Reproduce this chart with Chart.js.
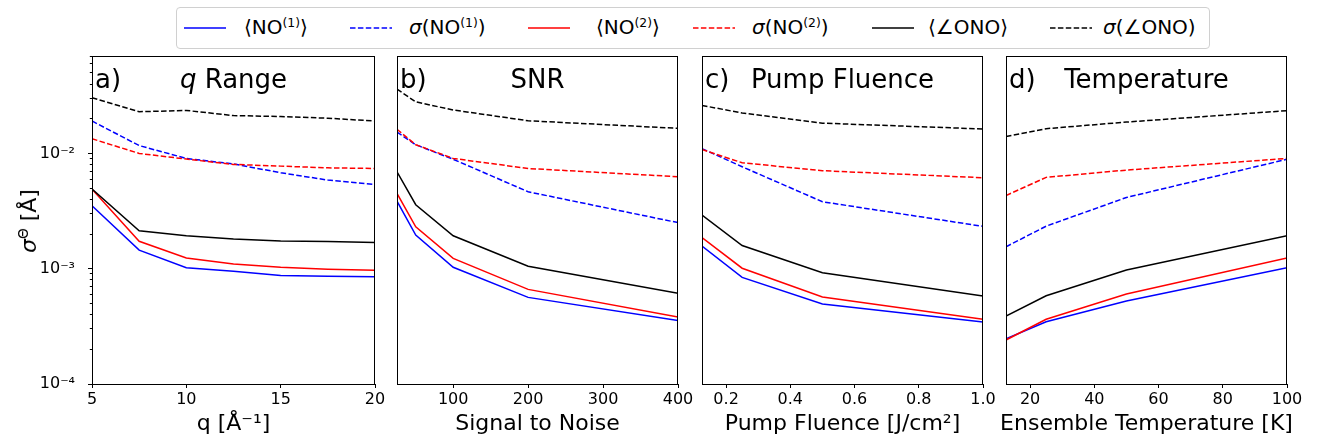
<!DOCTYPE html>
<html>
<head>
<meta charset="utf-8">
<script src="https://cdn.jsdelivr.net/npm/chart.js@4.4.1/dist/chart.umd.min.js"></script>
<style>
  body { margin: 0; background: #fff; }
  #fig { position: relative; width: 1317px; height: 439px; overflow: hidden; font-family: 'DejaVu Sans', sans-serif; color: #000; }
  canvas { position: absolute; top: 0; }
  #legend { position: absolute; left: 176px; top: 7px; width: 1034px; height: 42px; box-sizing: border-box;
            border: 1px solid #d0d0d0; border-radius: 4px; background: #fff; }
  .lg-line { position: absolute; top: 19px; height: 2px; }
  .lg-line svg { display: block; }
  .lg-text { position: absolute; top: 7px; font-size: 20px; line-height: 24px; white-space: nowrap; }
  sup { font-size: 0.62em; vertical-align: 0; position: relative; top: -0.6em; }
  #ylab { position: absolute; left: 30px; top: 221px; font-size: 22px; white-space: nowrap;
          transform: translate(-50%, -50%) rotate(-90deg); line-height: 26px; }
</style>
</head>
<body>
<div id="fig">
  <canvas id="pa" width="395" height="439" style="left:0px"></canvas>
  <canvas id="pb" width="340" height="439" style="left:360px"></canvas>
  <canvas id="pc" width="340" height="439" style="left:665px"></canvas>
  <canvas id="pd" width="347" height="439" style="left:970px"></canvas>
  <div id="legend"></div>
  <div id="ylab"><i>σ</i><sup>Θ</sup> [Å]</div>
</div>
<script>
'use strict';

// a) q range
const qRange = [5, 7.5, 10, 12.5, 15, 17.5, 20];
const qNo1Mean = [0.00352, 0.00145, 0.00102, 0.00095, 0.000875, 0.00086, 0.000853];
const qNo1Std = [0.0191, 0.0117, 0.00905, 0.0081, 0.0068, 0.00587, 0.00538];
const qNo2Mean = [0.0049, 0.00173, 0.00124, 0.0011, 0.00103, 0.00099, 0.00097];
const qNo2Std = [0.0134, 0.0100, 0.00893, 0.00803, 0.00776, 0.0075, 0.0074];
const qOnoMean = [0.00491, 0.00213, 0.00193, 0.00181, 0.00174, 0.00172, 0.00169];
const qOnoStd = [0.0304, 0.0230, 0.0236, 0.0213, 0.0209, 0.0202, 0.0191];

// b) signal to noise
const snr = [25, 50, 100, 200, 400];
const snrNo1Mean = [0.00386, 0.00196, 0.00103, 0.000564, 0.000356];
const snrNo1Std = [0.0153, 0.0119, 0.0089, 0.00465, 0.00251];
const snrNo2Mean = [0.0045, 0.00231, 0.00123, 0.000662, 0.000381];
const snrNo2Std = [0.0162, 0.0119, 0.00905, 0.0074, 0.00628];
const snrOnoMean = [0.00693, 0.00359, 0.00193, 0.00105, 0.000611];
const snrOnoStd = [0.0361, 0.0280, 0.0238, 0.0192, 0.0165];

// c) pump fluence
const fluence = [0.125, 0.25, 0.5, 1.0];
const flNo1Mean = [0.00157, 0.000841, 0.000494, 0.000345];
const flNo1Std = [0.0110, 0.00766, 0.00381, 0.00233];
const flNo2Mean = [0.00186, 0.00101, 0.000568, 0.000364];
const flNo2Std = [0.0108, 0.0083, 0.00708, 0.00615];
const flOnoMean = [0.00292, 0.00159, 0.000923, 0.00058];
const flOnoStd = [0.0261, 0.0224, 0.0183, 0.0163];

// d) temperature
const temperature = [12.5, 25, 50, 100];
const tNo1Mean = [0.000246, 0.000347, 0.000525, 0.00102];
const tNo1Std = [0.00155, 0.00234, 0.00415, 0.0089];
const tNo2Mean = [0.000241, 0.000364, 0.000603, 0.00124];
const tNo2Std = [0.00432, 0.0062, 0.00717, 0.00905];
const tOnoMean = [0.000389, 0.000583, 0.000973, 0.00193];
const tOnoStd = [0.0140, 0.0164, 0.0187, 0.0235];

// ticks
const qTicks = [5, 10, 15, 20];
const snrTicks = [100, 200, 300, 400];
const fluenceTicks = [0.2, 0.4, 0.6, 0.8, 1.0];
const tempTicks = [20, 40, 60, 80, 100];
const yTickValues = [1e-4, 1e-3, 1e-2];
const yTickLabels = ['10⁻⁴', '10⁻³', '10⁻²'];
const yMinorSteps = [2, 3, 4, 5, 6, 7, 8, 9];

// series look + legend
const seriesLabels = ['⟨NO<sup>(1)</sup>⟩', '<i>σ</i>(NO<sup>(1)</sup>)', '⟨NO<sup>(2)</sup>⟩',
  '<i>σ</i>(NO<sup>(2)</sup>)', '⟨∠ONO⟩', '<i>σ</i>(∠ONO)'];
const seriesColors = ['#0000ff', '#0000ff', '#ff0000', '#ff0000', '#000000', '#000000'];
const seriesDashed = [false, true, false, true, false, true];

const legendLineX = [184, 350, 528, 693, 872, 1050];
const legendTextX = [244, 409, 596, 752, 928, 1103];

const Y_MIN = 1e-4, Y_MAX = 0.07;
const DASH = [5.5, 2.4];

Chart.defaults.font.family = "'DejaVu Sans', sans-serif";
Chart.defaults.color = '#000';

function isDecade(v) {
  return yTickValues.some(t => Math.abs(t - v) / t < 1e-6);
}

let yAllTicks = [];
yTickValues.forEach(d => {
  yAllTicks.push(d);
  yMinorSteps.forEach(m => { if (m * d <= Y_MAX * 1.0001) yAllTicks.push(m * d); });
});

const panelText = {
  id: 'panelText',
  afterDraw(chart, args, opts) {
    const ctx = chart.ctx, a = chart.chartArea;
    ctx.save();
    // frame
    ctx.strokeStyle = '#000';
    ctx.lineWidth = 1;
    ctx.strokeRect(Math.round(a.left) + 0.5, Math.round(a.top) + 0.5,
      Math.round(a.right - a.left) - 1, Math.round(a.bottom - a.top));
    // letter + title
    ctx.fillStyle = '#000';
    ctx.textBaseline = 'alphabetic';
    ctx.textAlign = 'left';
    ctx.font = "26px 'DejaVu Sans'";
    ctx.fillText(opts.letter, a.left + 3, a.top + 32);
    let total = 0;
    opts.title.forEach(s => {
      ctx.font = (s.italic ? 'italic ' : '') + "26px 'DejaVu Sans'";
      total += ctx.measureText(s.text).width;
    });
    let x = (a.left + a.right) / 2 - total / 2;
    opts.title.forEach(s => {
      ctx.font = (s.italic ? 'italic ' : '') + "26px 'DejaVu Sans'";
      ctx.fillText(s.text, x, a.top + 32);
      x += ctx.measureText(s.text).width;
    });
    // x axis label
    ctx.font = "22px 'DejaVu Sans'";
    ctx.textAlign = 'center';
    ctx.fillText(opts.xTitle, (a.left + a.right) / 2, a.bottom + 46);
    ctx.restore();
  }
};

function makePanel (id, xs, ys, xmin, xmax, xTicks, xFmt, xTitle, padL, padR, showY, letter, title)
{
  const datasets = ys.map((arr, i) => ({
    data: xs.map((x, j) => ({ x: x, y: arr[j] })),
    borderColor: seriesColors[i],
    borderWidth: 1.5,
    borderDash: seriesDashed[i] ? DASH : [],
    pointRadius: 0,
    tension: 0,
    fill: false,
    order: ys.length - i
  }));

  new Chart(document.getElementById(id), {
    type: 'line',
    data: { datasets: datasets },
    plugins: [panelText],
    options: {
      responsive: false,
      animation: false,
      devicePixelRatio: 1,
      layout: { padding: { left: padL, right: padR, top: 56, bottom: 0 } },
      plugins: {
        legend: { display: false },
        tooltip: { enabled: false },
        panelText: { letter: letter, title: title, xTitle: xTitle }
      },
      scales: {
        x: {
          type: 'linear',
          min: xmin,
          max: xmax,
          afterBuildTicks: s => { s.ticks = xTicks.map(v => ({ value: v })); },
          afterFit: s => { s.height = 55; },
          ticks: { autoSkip: false, maxRotation: 0, font: { size: 16 }, color: '#000', padding: 2,
            callback: v => xFmt(v) },
          grid: { drawOnChartArea: false, drawTicks: true, tickLength: 4, tickColor: '#000', tickWidth: 1 },
          border: { display: false }
        },
        y: {
          type: 'logarithmic',
          min: Y_MIN,
          max: Y_MAX,
          display: showY,
          afterBuildTicks: s => { s.ticks = yAllTicks.map(v => ({ value: v, major: isDecade(v) })); },
          afterFit: s => { if (showY) s.width = 92; },
          ticks: { autoSkip: false, font: { size: 16 }, color: '#000', padding: 13,
            callback: v => {
              const k = yTickValues.findIndex(t => Math.abs(t - v) / t < 1e-6);
              return k >= 0 ? yTickLabels[k] : '';
            } },
          grid: { drawOnChartArea: false, drawTicks: true, tickLength: 4, tickColor: '#000', tickWidth: 1,
            tickBorderDash: ctx => (ctx.tick && isDecade(ctx.tick.value)) ? [] : [0, 1.8, 2.2, 20] },
          border: { display: false }
        }
      }
    }
  });
}

const plain = v => String(v);
const oneDec = v => v.toFixed(1);

makePanel('pa', qRange, [qNo1Mean, qNo1Std, qNo2Mean, qNo2Std, qOnoMean, qOnoStd],
  5, 20, qTicks, plain, 'q [Å⁻¹]', 0, 20, true, 'a)', [{ text: 'q', italic: true }, { text: ' Range' }]);
makePanel('pb', snr, [snrNo1Mean, snrNo1Std, snrNo2Mean, snrNo2Std, snrOnoMean, snrOnoStd],
  25, 400, snrTicks, plain, 'Signal to Noise', 37, 22, false, 'b)', [{ text: 'SNR' }]);
makePanel('pc', fluence, [flNo1Mean, flNo1Std, flNo2Mean, flNo2Std, flOnoMean, flOnoStd],
  0.125, 1.0, fluenceTicks, oneDec, 'Pump Fluence [J/cm²]', 37, 22, false, 'c)', [{ text: 'Pump Fluence' }]);
makePanel('pd', temperature, [tNo1Mean, tNo1Std, tNo2Mean, tNo2Std, tOnoMean, tOnoStd],
  12.5, 100, tempTicks, plain, 'Ensemble Temperature [K]', 36, 30, false, 'd)', [{ text: 'Temperature' }]);

// shared legend
const legend = document.getElementById('legend');
seriesLabels.forEach((lab, i) => {
  const lx = legendLineX[i] - 177, tx = legendTextX[i] - 177;
  const dash = seriesDashed[i] ? ' stroke-dasharray="' + DASH.join(' ') + '"' : '';
  const line = document.createElement('div');
  line.className = 'lg-line';
  line.style.left = lx + 'px';
  line.innerHTML = '<svg width="42" height="2"><line x1="0" y1="1" x2="42" y2="1" stroke="' +
    seriesColors[i] + '" stroke-width="1.5"' + dash + '/></svg>';
  legend.appendChild(line);
  const txt = document.createElement('div');
  txt.className = 'lg-text';
  txt.style.left = tx + 'px';
  txt.innerHTML = lab;
  legend.appendChild(txt);
});
</script>
</body>
</html>
